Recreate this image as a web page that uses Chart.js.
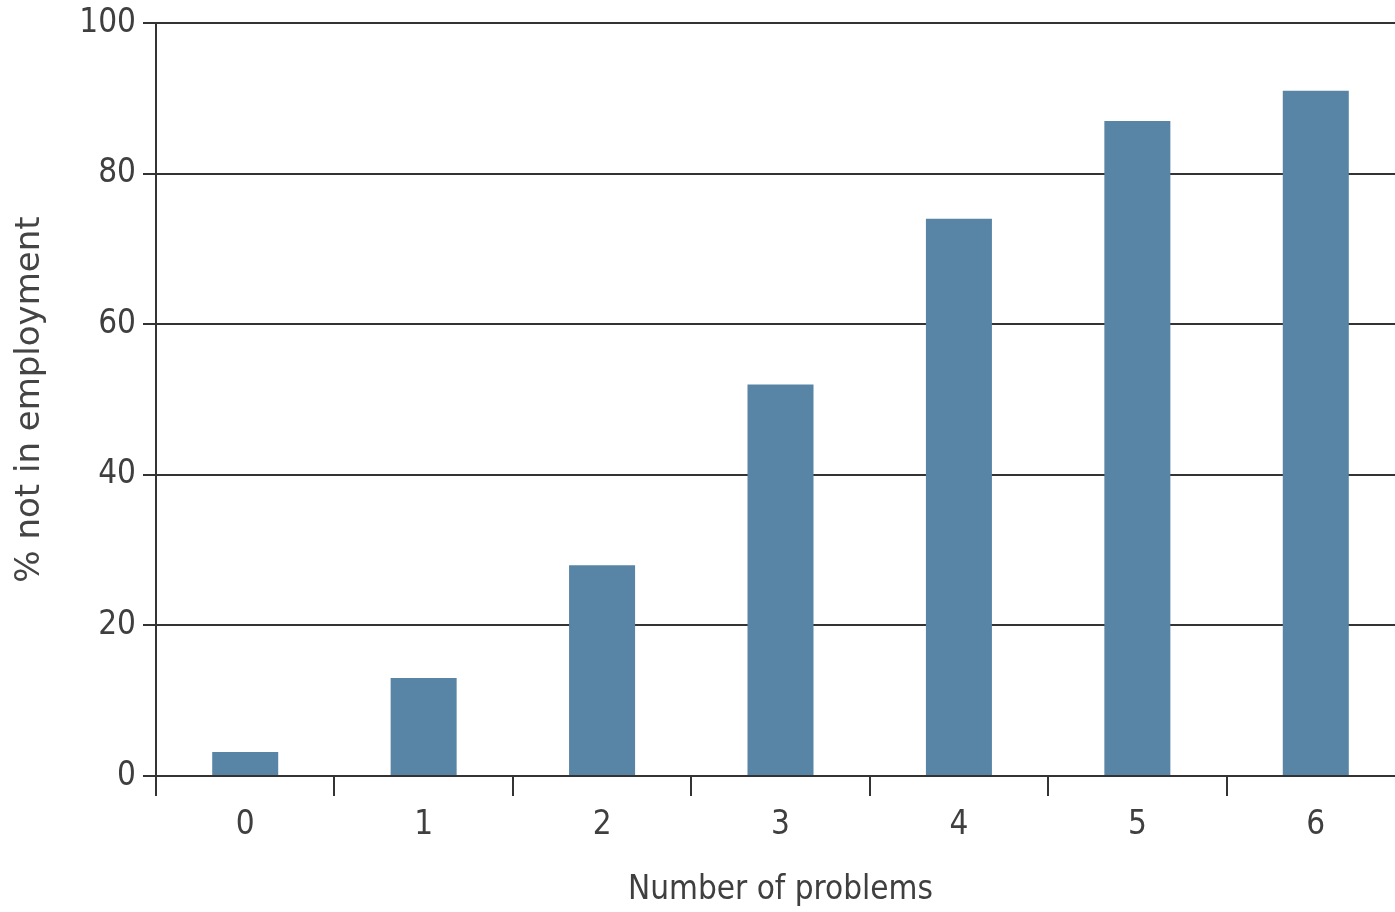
<!DOCTYPE html>
<html lang="en">
<head>
  <meta charset="UTF-8" />
  <title>% not in employment by number of problems</title>
  <script src="https://cdn.jsdelivr.net/npm/chart.js@4.4.1/dist/chart.umd.min.js"></script>
  <style>
    html, body {
      margin: 0;
      padding: 0;
      background: #fff;
      overflow: hidden;
    }
    #wrap {
      width: 1405px;
      height: 912px;
    }
  </style>
</head>
<body>
  <div id="wrap"><canvas id="chart"></canvas></div>

<script>
  // data
  const problemCounts = ['0', '1', '2', '3', '4', '5', '6'];
  const pctNotEmployed = [3.2, 13, 28, 52, 74, 87, 91];
  const yTicks = [0, 20, 40, 60, 80, 100];

  const axisColor = '#333333';
  const textColor = '#3f3f3f';
  const narrowFont = "'DejaVu Sans Condensed', 'Liberation Sans Narrow', sans-serif";

  new Chart(document.getElementById('chart'), {
    type: 'bar',
    data: {
      labels: problemCounts,
      datasets: [{
        label: '% not in employment',
        data: pctNotEmployed,
        backgroundColor: '#5885a6',
        borderWidth: 0,
        barPercentage: 0.37,
        categoryPercentage: 1
      }]
    },
    options: {
      responsive: true,
      maintainAspectRatio: false,
      animation: false,
      layout: { padding: { top: 23, left: 0, right: 0, bottom: 0 } },
      plugins: {
        legend: { display: false },
        tooltip: { enabled: false }
      },
      scales: {
        x: {
          grid: {
            display: true,
            drawOnChartArea: false,
            drawTicks: true,
            tickLength: 20,
            color: axisColor,
            lineWidth: 2,
            offset: true
          },
          border: { display: true, color: axisColor, width: 2 },
          ticks: {
            color: textColor,
            font: { family: narrowFont, size: 33 },
            padding: 10
          },
          title: {
            display: true,
            text: 'Number of problems',
            color: textColor,
            font: { family: narrowFont, size: 33 },
            padding: { top: 0, bottom: 2 }
          },
          afterFit: (scale) => { scale.height = 136; }
        },
        y: {
          min: 0,
          max: 100,
          afterBuildTicks: (scale) => {
            scale.ticks = yTicks.map(v => ({ value: v }));
          },
          grid: {
            color: axisColor,
            lineWidth: 2,
            tickLength: 13,
            drawTicks: true
          },
          border: { display: true, color: axisColor, width: 2 },
          ticks: {
            color: textColor,
            font: { family: narrowFont, size: 33, lineHeight: 0.9 },
            padding: 7
          },
          title: {
            display: true,
            text: '% not in employment',
            color: '#444444',
            font: { family: "'DejaVu Sans', sans-serif", size: 34 },
            padding: { top: 10, bottom: 0 }
          },
          afterFit: (scale) => { scale.width = 156; }
        }
      }
    }
  });
</script>
</body>
</html>
